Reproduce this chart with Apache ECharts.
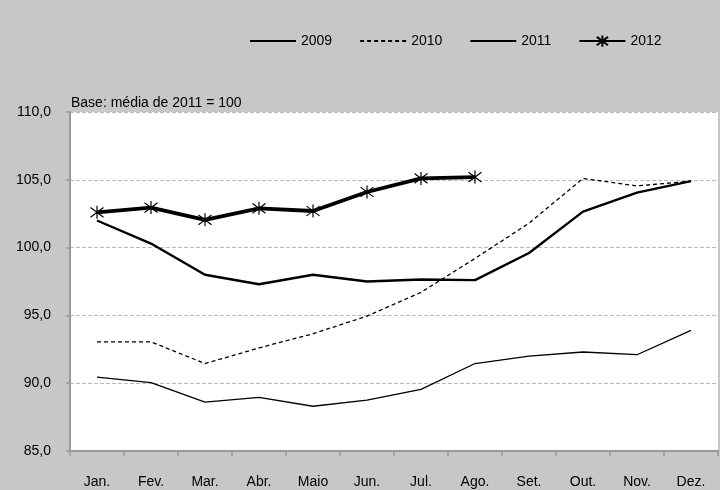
<!DOCTYPE html>
<html><head><meta charset="utf-8">
<script src="https://cdn.jsdelivr.net/npm/echarts@6/dist/echarts.min.js"></script>
<style>html,body{margin:0;padding:0;background:#c6c7c9}#c{width:720px;height:490px}</style>
</head><body><div id="c"></div>
<script>
const categories = ['Jan.','Fev.','Mar.','Abr.','Maio','Jun.','Jul.','Ago.','Set.','Out.','Nov.','Dez.'];
const s2009 = [90.45, 90.05, 88.6, 88.95, 88.3, 88.75, 89.55, 91.45, 92.0, 92.3, 92.1, 93.9];
const s2010 = [93.05, 93.05, 91.45, 92.6, 93.65, 94.95, 96.7, 99.2, 101.8, 105.1, 104.55, 104.9];
const s2011 = [102.0, 100.3, 98.0, 97.3, 98.0, 97.5, 97.65, 97.6, 99.6, 102.65, 104.05, 104.9];
const s2012 = [102.6, 102.95, 102.05, 102.9, 102.7, 104.1, 105.1, 105.2];
const yTicks = {min: 85, max: 110, interval: 5};
const font = 'Liberation Sans, Arial, sans-serif';
const asterisk = 'path://M0,-10L0,10M-7.5,-7.5L7.5,7.5M-7.5,7.5L7.5,-7.5';
const hidden = {color: 'rgba(0,0,0,0)', borderColor: 'rgba(0,0,0,0)', borderWidth: 0};
const chart = echarts.init(document.getElementById('c'));
chart.setOption({
  backgroundColor: '#c6c7c9',
  animation: false,
  textStyle: {fontFamily: font},
  title: {text: 'Base: média de 2011 = 100', left: 66, top: 91,
    textStyle: {fontSize: 14, fontWeight: 'normal', color: '#000', fontFamily: font}},
  legend: {
    left: 244, top: 28, itemWidth: 46, itemHeight: 14, itemGap: 27,
    textStyle: {fontSize: 14, color: '#000', fontFamily: font},
    data: [
      {name: '2009', itemStyle: hidden},
      {name: '2010', itemStyle: hidden},
      {name: '2011', itemStyle: hidden},
      {name: '2012'}
    ]
  },
  grid: {left: 70, right: 2, top: 112, bottom: 39, show: true, backgroundColor: '#fff', borderWidth: 0},
  xAxis: {
    type: 'category', data: categories, boundaryGap: true,
    axisLine: {lineStyle: {color: '#999', width: 2}},
    axisTick: {show: true, length: 5, lineStyle: {color: '#999', width: 1.5}},
    axisLabel: {color: '#000', fontSize: 14, margin: 24, fontFamily: font},
    splitLine: {show: false}
  },
  yAxis: {
    type: 'value', min: yTicks.min, max: yTicks.max, interval: yTicks.interval,
    axisLine: {show: true, lineStyle: {color: '#999', width: 2}},
    axisTick: {show: true, length: 4, lineStyle: {color: '#999', width: 1.5}},
    axisLabel: {color: '#000', fontSize: 14, margin: 19, fontFamily: font,
      formatter: v => v.toFixed(1).replace('.', ',')},
    splitLine: {show: true, lineStyle: {color: '#bbb', type: [4, 2], width: 1}}
  },
  series: [
    {name: '2009', type: 'line', data: s2009, symbol: 'none', lineStyle: {color: '#000', width: 1.3}, itemStyle: {color: '#000'}},
    {name: '2010', type: 'line', data: s2010, symbol: 'none', lineStyle: {color: '#000', width: 1.3, type: [4, 3]}, itemStyle: {color: '#000'}},
    {name: '2011', type: 'line', data: s2011, symbol: 'none', lineStyle: {color: '#000', width: 2.4}, itemStyle: {color: '#000'}},
    {name: '2012', type: 'line', data: s2012, symbol: asterisk, symbolSize: 13, showAllSymbol: true,
      lineStyle: {color: '#000', width: 3.8},
      itemStyle: {color: 'none', borderColor: '#000', borderWidth: 1.2}}
  ]
});
</script></body></html>
